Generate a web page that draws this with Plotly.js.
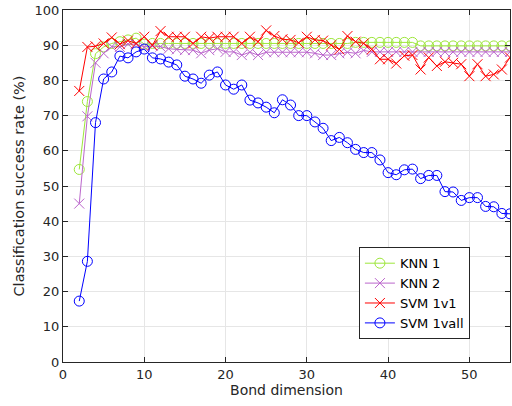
<!DOCTYPE html>
<html>
<head>
<meta charset="utf-8">
<script src="https://cdn.plot.ly/plotly-3.0.1.min.js"></script>
<style>html,body{margin:0;padding:0;background:#fff;}#chart{width:512px;height:406px;}</style>
</head>
<body>
<div id="chart"></div>
<script>
var bondDim = [2,3,4,5,6,7,8,9,10,11,12,13,14,15,16,17,18,19,20,21,22,23,24,25,26,27,28,29,30,31,32,33,34,35,36,37,38,39,40,41,42,43,44,45,46,47,48,49,50,51,52,53,54,55];
var knn1 = [54.7,74,87.6,89.5,90.5,91,91.5,92,90.3,90.5,90.5,90.5,90.5,90.5,90.5,90.5,90.5,90.5,90.5,90.5,90.5,90.5,90.5,90.5,90.5,90.5,90.5,90.5,90.5,90.5,90.5,90.5,90.5,90.5,90.8,90.8,90.8,90.8,90.8,90.8,90.8,90.8,89.8,89.8,89.8,89.8,89.8,89.8,89.8,89.8,89.8,89.8,89.8,89.8];
var knn2 = [45,69.8,85,87.7,89.6,89.5,90.3,90.3,89.5,89.8,89.6,89,88.8,88.6,88.6,87.7,88.6,89,88.1,88.1,87.2,88,87.2,88,88,88,88,88,88,87.7,87.2,87.2,87.7,88,87.7,88.5,88.1,88.1,88.1,88.1,88.1,88.1,88.1,88.1,88.1,88.1,88.1,88.1,88.1,88.1,88.1,88.1,88.1,88.1];
var svm1v1 = [77,89.5,89.7,90.5,92.2,90.3,91.3,90.5,92.4,90,94,92.4,92.4,92.4,90.5,92.4,92,92.4,92.4,92.4,90.5,92.4,91,94.2,92.6,91.7,91.5,90.7,92.4,91.5,91.3,90,88.8,92.6,91,90.5,88.8,86,86,84.8,87,87.2,83.1,86.5,84.1,85.3,85,84.6,81.2,84.6,81.2,81.7,83.1,86.5];
var svm1vall = [17.3,28.6,68,80.4,82.4,86.9,86.4,88.1,88.9,86.4,86.1,85.2,84.4,81.2,80.4,79.2,81.5,82.4,78.7,77.5,78.7,74.4,73.6,72.4,70.8,74.5,73,70,70,68.2,66.4,62.9,63.8,62.3,60.4,59.5,59.5,57.4,53.8,53.2,54.6,54.8,52.1,53,53,48.4,48.3,45.9,46.7,46.7,44.2,44.1,42.2,42.1];
var seriesNames = ['KNN 1','KNN 2','SVM 1v1','SVM 1vall'];
var xTicks = [0,10,20,30,40,50];
var yTicks = [0,10,20,30,40,50,60,70,80,90,100];

var colors = ['#9de63a','#bb66cc','#ff0000','#0000ff'];
var symbols = ['circle-open','x-thin-open','x-thin-open','circle-open'];
var ys = [knn1, knn2, svm1v1, svm1vall];
var traces = ys.map(function(y, i){
  return {
    x: bondDim, y: y, name: seriesNames[i], type: 'scatter', mode: 'lines+markers',
    line: {color: colors[i], width: 1},
    marker: {symbol: symbols[i], size: 10, color: colors[i], line: {color: colors[i], width: 1}}
  };
});

var axisCommon = {
  showline: true, mirror: 'ticks', linecolor: '#262626', linewidth: 1,
  ticks: 'inside', ticklen: 5, tickcolor: '#262626', tickwidth: 1,
  showgrid: true, gridcolor: '#e6e6e6', gridwidth: 1, zeroline: false,
  tickfont: {family: 'DejaVu Sans', size: 13, color: '#262626'}
};
var layout = {
  width: 512, height: 406,
  margin: {l: 63, r: 2, t: 10, b: 44},
  paper_bgcolor: '#ffffff', plot_bgcolor: '#ffffff',
  showlegend: true,
  xaxis: Object.assign({}, axisCommon, {
    range: [0, 55], tickvals: xTicks, ticktext: xTicks.map(String),
    title: {text: 'Bond dimension', font: {family: 'DejaVu Sans', size: 14, color: '#262626'}, standoff: 4}
  }),
  yaxis: Object.assign({}, axisCommon, {
    range: [0, 100], tickvals: yTicks, ticktext: yTicks.map(String),
    title: {text: 'Classification success rate (%)', font: {family: 'DejaVu Sans', size: 14.5, color: '#262626'}, standoff: 6}
  }),
  legend: {
    x: 0.662, y: 0.326, xanchor: 'left', yanchor: 'top',
    bgcolor: '#ffffff', bordercolor: '#262626', borderwidth: 1,
    font: {family: 'DejaVu Sans', size: 13, color: '#000000'},
    tracegroupgap: 0
  }
};
Plotly.newPlot('chart', traces, layout, {displayModeBar: false, staticPlot: true});
</script>
</body>
</html>
